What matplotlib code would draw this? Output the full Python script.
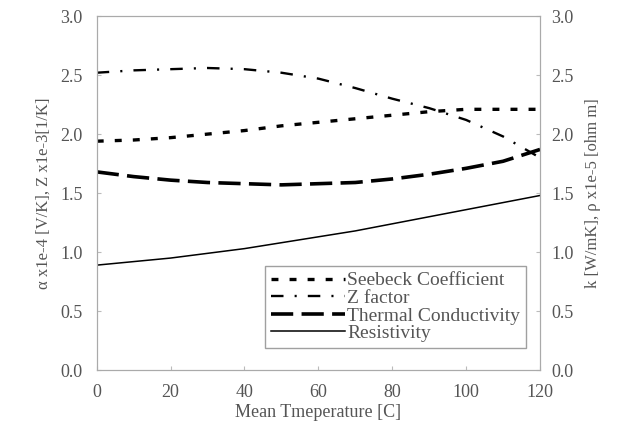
import matplotlib.pyplot as plt

temp = [0, 10, 20, 30, 40, 50, 60, 70, 80, 90, 100, 110, 120]
seebeck = [1.94, 1.95, 1.97, 2.00, 2.03, 2.07, 2.10, 2.13, 2.16, 2.19, 2.21, 2.21, 2.21]
zfactor = [2.52, 2.54, 2.55, 2.56, 2.55, 2.52, 2.47, 2.39, 2.30, 2.22, 2.12, 1.98, 1.80]
thermal = [1.68, 1.64, 1.61, 1.59, 1.58, 1.57, 1.58, 1.59, 1.62, 1.66, 1.71, 1.77, 1.87]
resist = [0.89, 0.92, 0.95, 0.99, 1.03, 1.08, 1.13, 1.18, 1.24, 1.30, 1.36, 1.42, 1.48]

plt.rcParams['font.family'] = ['Liberation Serif', 'DejaVu Serif']
plt.rcParams['lines.scale_dashes'] = False
txt = '#555555'

fig = plt.figure(figsize=(6.2, 4.34), dpi=100)
ax = fig.add_axes([0.156, 0.147, 0.715, 0.816])

ax.plot(temp, seebeck, color='black', lw=2.4, linestyle=(0, (5, 8)), label='Seebeck Coefficient')
ax.plot(temp, zfactor, color='black', lw=1.7, linestyle=(0, (9, 8, 1.5, 8)), label='Z factor')
ax.plot(temp, thermal, color='black', lw=2.6, linestyle=(0, (16, 6)), label='Thermal Conductivity')
ax.plot(temp, resist, color='black', lw=1.1, label='Resistivity')

ax.set_xlim(0, 120)
ax.set_ylim(0, 3.0)
ax.set_xticks(range(0, 121, 20))
ax.set_yticks([0, 0.5, 1.0, 1.5, 2.0, 2.5, 3.0])
ax.set_yticklabels(['%.1f' % v for v in ax.get_yticks()])
ax.tick_params(direction='in', length=3, colors='#bbbbbb', labelcolor=txt, labelsize=13, pad=10)

ax2 = ax.twinx()
ax2.set_ylim(0, 3.0)
ax2.set_yticks([0, 0.5, 1.0, 1.5, 2.0, 2.5, 3.0])
ax2.set_yticklabels(['%.1f' % v for v in ax2.get_yticks()])
ax2.tick_params(direction='in', length=3, colors='#bbbbbb', labelcolor=txt, labelsize=13, pad=8)

for a in (ax, ax2):
    for s in a.spines.values():
        s.set_color('#aaaaaa')

ax.set_xlabel('Mean Tmeperature [C]', color=txt, fontsize=13, labelpad=2)
ax.set_ylabel('α x1e-4 [V/K], Z x1e-3[1/K]', color=txt, fontsize=12, labelpad=6)
ax2.set_ylabel('k [W/mK], ρ x1e-5 [ohm m]', color=txt, fontsize=12, labelpad=8)

leg = ax.legend(loc='lower right', bbox_to_anchor=(0.99, 0.035), fontsize=14,
                frameon=True, fancybox=False, edgecolor='#888888',
                handlelength=3.8, handletextpad=0.1, labelspacing=0.0, borderpad=0.3)
for t in leg.get_texts():
    t.set_color(txt)

fig.savefig('out.png', dpi=100)
